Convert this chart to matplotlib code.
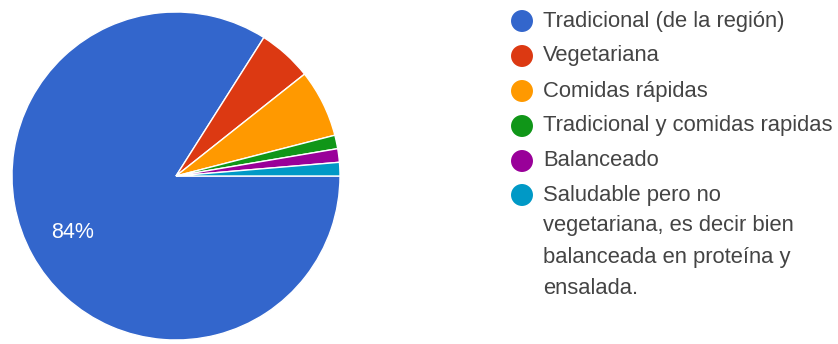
import matplotlib.pyplot as plt

plt.rcParams['font.family'] = ['Liberation Sans', 'DejaVu Sans']

# Datos (respuestas por tipo de comida)
categories = [
    "Tradicional (de la región)",
    "Vegetariana",
    "Comidas rápidas",
    "Tradicional y comidas rapidas",
    "Balanceado",
    "Saludable pero no\nvegetariana, es decir bien\nbalanceada en proteína y\nensalada.",
]
counts = [63, 4, 5, 1, 1, 1]
colors = ["#3366cc", "#dc3912", "#ff9900", "#109618", "#990099", "#0099c6"]

W, H = 838, 344
fig = plt.figure(figsize=(W / 100, H / 100), dpi=100)

# Pie
ax = fig.add_axes([12 / W, 4 / H, 328 / W, 328 / H])
wedges, texts, autotexts = ax.pie(
    counts,
    colors=colors,
    startangle=0,
    counterclock=False,
    autopct=lambda p: f"{p:.0f}%" if p > 10 else "",
    pctdistance=0.72,
    wedgeprops=dict(edgecolor="white", linewidth=1),
    textprops=dict(color="white", fontsize=15.5),
)
ax.set_xlim(-1, 1)
ax.set_ylim(-1, 1)
ax.set_aspect("equal")

# Leyenda manual (coordenadas en pixeles)
lg = fig.add_axes([0, 0, 1, 1])
lg.set_xlim(0, W)
lg.set_ylim(H, 0)
lg.axis("off")

row_y = [21, 56, 91, 126, 161, 195]
line_gap = 31
dot_x = 522
text_x = 543
for lab, col, y in zip(categories, colors, row_y):
    lg.scatter([dot_x], [y], s=250, color=col, edgecolors="none")
    for k, line in enumerate(lab.split("\n")):
        lg.text(text_x, y + k * line_gap, line,
                fontsize=15.8, color="#444444", va="center", ha="left")

fig.savefig("out.png", dpi=100)
